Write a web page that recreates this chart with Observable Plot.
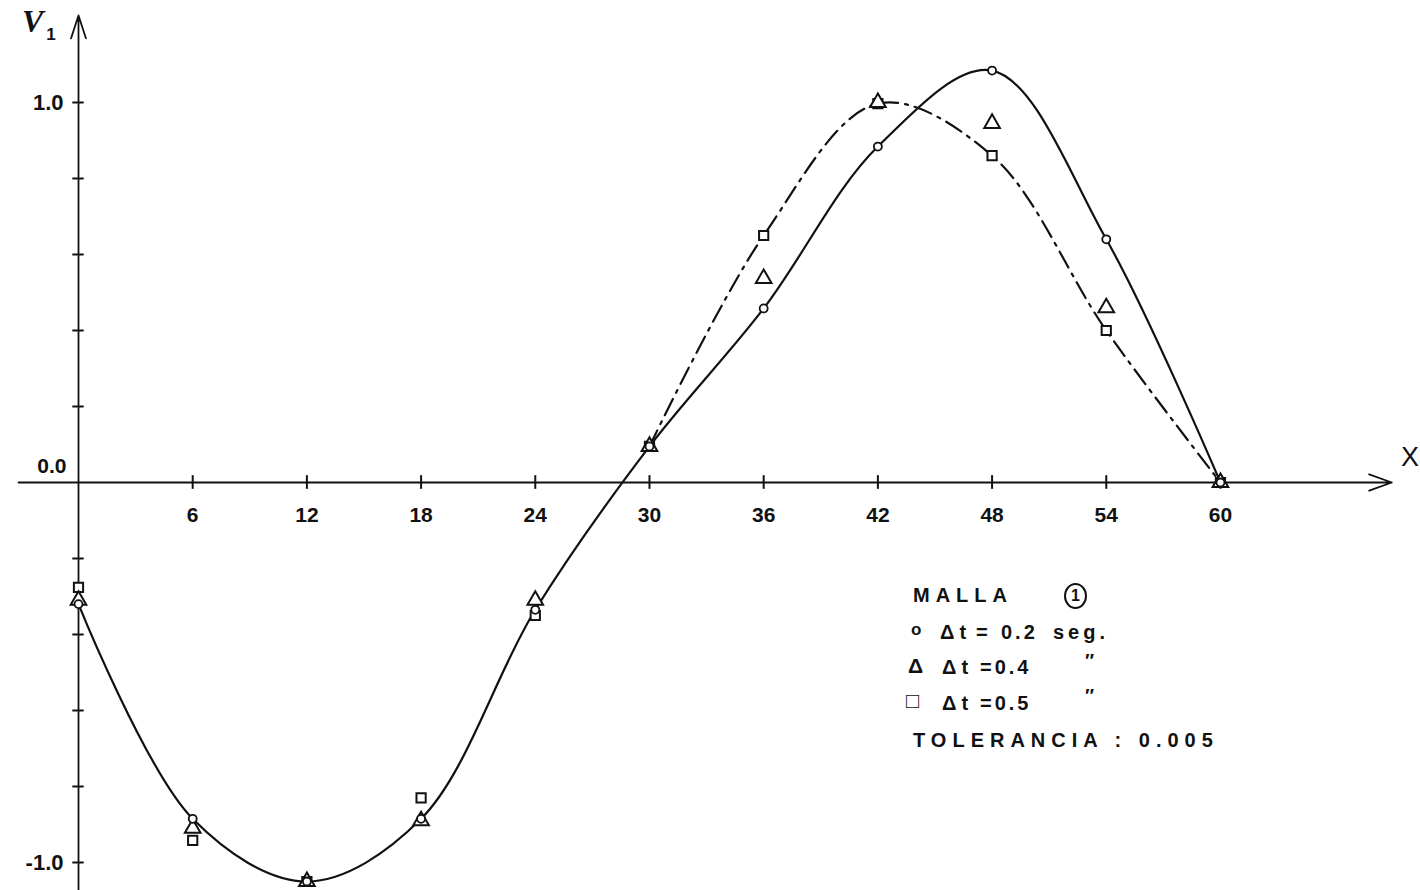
<!DOCTYPE html>
<html>
<head>
<meta charset="utf-8">
<script src="https://cdn.jsdelivr.net/npm/d3@7"></script>
<script src="https://cdn.jsdelivr.net/npm/@observablehq/plot@0.6"></script>
<style>
  html, body { margin: 0; padding: 0; background: #fff; }
  #wrap { position: relative; width: 1420px; height: 890px; overflow: hidden; font-family: "Liberation Sans", Arial, sans-serif; color: #111; }
  #wrap svg { position: absolute; left: 0; top: 0; }
  .lab { position: absolute; white-space: nowrap; line-height: 1; }
  .leg { font-size: 20px; letter-spacing: 6px; font-weight: bold; }
</style>
</head>
<body>
<div id="wrap"></div>
<script>
// ---- data ----
const xValues = [0, 6, 12, 18, 24, 30, 36, 42, 48, 54, 60];
const v_dt02 = [-0.32, -0.885, -1.05, -0.885, -0.335, 0.095, 0.458, 0.884, 1.084, 0.64, 0.0]; // circles, solid
const v_dt04 = [-0.31, -0.91, -1.05, -0.89, -0.31, 0.095, 0.537, 1.0, 0.945, 0.46, 0.0];      // triangles
const v_dt05 = [-0.276, -0.942, -1.05, -0.83, -0.35, 0.095, 0.65, 0.997, 0.86, 0.40, 0.0];   // squares, dash-dot from x=30
const xTicks = [6, 12, 18, 24, 30, 36, 42, 48, 54, 60];
const xTickLabels = ["6", "12", "18", "24", "30", "36", "42", "48", "54", "60"];
const yTicks = [-1.0, -0.8, -0.6, -0.4, -0.2, 0.2, 0.4, 0.6, 0.8, 1.0];
const yLabelValues = [-1.0, 0.0, 1.0];
const yLabelTexts = ["-1.0", "0.0", "1.0"];

const s02 = xValues.map((x, i) => ({x, y: v_dt02[i]}));
const s04 = xValues.map((x, i) => ({x, y: v_dt04[i]}));
const s05 = xValues.map((x, i) => ({x, y: v_dt05[i]}));
const s05line = s05.filter(d => d.x >= 30);
const yLab = yLabelValues.map((y, i) => ({y, t: yLabelTexts[i]}));
const xLab = xTicks.map((x, i) => ({x, t: xTickLabels[i]}));

const ink = "#111";
const chart = Plot.plot({
  width: 1420,
  height: 890,
  margin: 0,
  x: {domain: [-4.098, 70.51], axis: null},
  y: {domain: [-1.0737, 1.2684], axis: null},
  style: {fontFamily: "Liberation Sans, Arial, sans-serif", color: ink, background: "white"},
  marks: [
    // axes with arrowheads
    Plot.arrow([{}], {x1: 0, x2: 0, y1: -1.08, y2: 1.229, stroke: ink, strokeWidth: 1.8, headLength: 20, headAngle: 36}),
    Plot.arrow([{}], {x1: -3.15, x2: 69.0, y1: 0, y2: 0, stroke: ink, strokeWidth: 1.8, headLength: 20, headAngle: 40}),
    // tick marks
    Plot.ruleX(xTicks, {x: d => d, y1: -0.018, y2: 0.018, stroke: ink, strokeWidth: 2}),
    Plot.ruleY(yTicks, {y: d => d, x1: -0.3, x2: 0.3, stroke: ink, strokeWidth: 2}),
    // tick labels
    Plot.text(xLab, {x: "x", y: 0, text: "t", dy: 33, fontSize: 21, fontWeight: "bold", fill: ink}),
    Plot.text(yLab.filter(d => d.y !== 0), {x: 0, y: "y", text: "t", dx: -15, textAnchor: "end", fontSize: 22, fontWeight: "bold", fill: ink}),
    Plot.text(yLab.filter(d => d.y === 0), {x: 0, y: "y", text: "t", dx: -12, dy: -16, textAnchor: "end", fontSize: 21, fontWeight: "bold", fill: ink}),
    // curves
    Plot.line(s05line, {x: "x", y: "y", curve: "catmull-rom", stroke: ink, strokeWidth: 2.2, strokeDasharray: "18,7,3,7"}),
    Plot.line(s02, {x: "x", y: "y", curve: "catmull-rom", stroke: ink, strokeWidth: 2.2}),
    // markers
    Plot.dot(s05, {x: "x", y: "y", symbol: "square", r: 5.2, fill: "white", stroke: ink, strokeWidth: 2}),
    Plot.dot(s04, {x: "x", y: "y", symbol: "triangle", r: 5.8, fill: "white", stroke: ink, strokeWidth: 2}),
    Plot.dot(s02, {x: "x", y: "y", symbol: "circle", r: 4, fill: "white", stroke: ink, strokeWidth: 1.8})
  ]
});

const wrap = document.getElementById("wrap");
wrap.appendChild(chart);

function label(html, left, top, cls, style) {
  const d = document.createElement("div");
  d.className = "lab " + (cls || "");
  d.innerHTML = html;
  d.style.left = left + "px";
  d.style.top = top + "px";
  if (style) Object.assign(d.style, style);
  wrap.appendChild(d);
  return d;
}

// axis titles
label('<span style="font-family:\'Liberation Serif\',serif;font-style:italic;font-weight:bold;font-size:32px;">V</span><span style="font-size:17px;font-weight:bold;position:relative;top:8px;margin-left:3px;">1</span>', 22, 5);
label('X', 1401, 444, "", {fontSize: "27px"});

// legend
label('MALLA', 913, 585, "leg");
label('<span style="display:inline-block;width:19px;height:22px;border:2px solid #111;border-radius:50%;text-align:center;line-height:22px;font-size:16px;letter-spacing:0;">1</span>', 1064, 583, "leg");
label('o', 911, 621, "leg", {fontSize: "17px"});
label('Δt', 940, 622, "leg", {letterSpacing: "5px"});
label('=', 976, 622, "leg");
label('0.2', 1001, 622, "leg", {letterSpacing: "3px"});
label('seg.', 1053, 622, "leg", {letterSpacing: "4px"});
label('Δ', 908, 655, "leg", {fontSize: "21px"});
label('Δt', 942, 657, "leg", {letterSpacing: "5px"});
label('=0.4', 980, 657, "leg", {letterSpacing: "3px"});
label('″', 1085, 651, "leg", {fontSize: "19px"});
label('□', 906, 690, "leg", {fontSize: "22px", fontWeight: "normal"});
label('Δt', 942, 693, "leg", {letterSpacing: "5px"});
label('=0.5', 980, 693, "leg", {letterSpacing: "3px"});
label('″', 1085, 686, "leg", {fontSize: "19px"});
label('TOLERANCIA : 0.005', 913, 730, "leg", {letterSpacing: "6px"});
</script>
</body>
</html>
